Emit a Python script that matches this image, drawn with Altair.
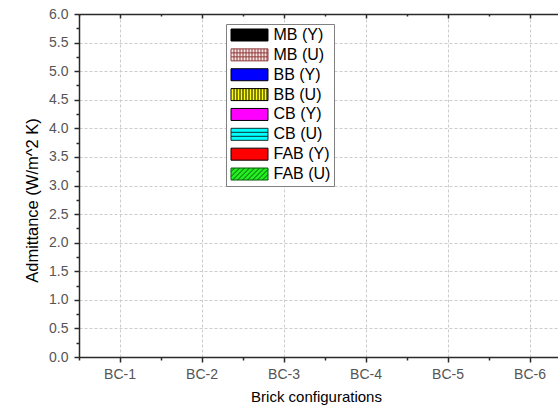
import altair as alt
import pandas as pd

# ---- data -------------------------------------------------------------
configs = ["BC-1", "BC-2", "BC-3", "BC-4", "BC-5", "BC-6"]
series = ["MB (Y)", "MB (U)", "BB (Y)", "BB (U)", "CB (Y)", "CB (U)", "FAB (Y)", "FAB (U)"]

# admittance (W/m^2 K) for each brick configuration; every bar sits on the baseline
mb_y = [0.0, 0.0, 0.0, 0.0, 0.0, 0.0]
mb_u = [0.0, 0.0, 0.0, 0.0, 0.0, 0.0]
bb_y = [0.0, 0.0, 0.0, 0.0, 0.0, 0.0]
bb_u = [0.0, 0.0, 0.0, 0.0, 0.0, 0.0]
cb_y = [0.0, 0.0, 0.0, 0.0, 0.0, 0.0]
cb_u = [0.0, 0.0, 0.0, 0.0, 0.0, 0.0]
fab_y = [0.0, 0.0, 0.0, 0.0, 0.0, 0.0]
fab_u = [0.0, 0.0, 0.0, 0.0, 0.0, 0.0]

y_ticks = [0.0, 0.5, 1.0, 1.5, 2.0, 2.5, 3.0, 3.5, 4.0, 4.5, 5.0, 5.5, 6.0]

series_values = [mb_y, mb_u, bb_y, bb_u, cb_y, cb_u, fab_y, fab_u]
df = pd.DataFrame(
    [
        {"config": c, "series": s, "value": v}
        for s, vals in zip(series, series_values)
        for c, v in zip(configs, vals)
    ]
)

# ---- styling ----------------------------------------------------------
FONT = "Liberation Sans"
AXIS_DARK = "#2a2a2a"
LABEL_GREY = "#555555"
GRID_GREY = "#cccccc"

fills = ["#000000", "#f7e3e3", "#0000ff", "#ffff00", "#ff00ff", "#00ffff", "#ff0000", "#22ee22"]
strokes = ["#000000", "#8e3b3b", "#000000", "#000000", "#000000", "#0e2e2e", "#000000", "#0b5a0b"]

# legend swatches as SVG paths (symbol units: 1 unit = 6 px)
HW, HH = 3.083, 1.0


def f(v):
    return f"{v:.3f}"


def swatch(kind):
    p = f"M{f(-HW)},{f(-HH)}H{f(HW)}V{f(HH)}H{f(-HW)}Z"
    if kind in ("grid", "vert"):
        x = -HW + 0.5
        while x < HW - 0.1:
            p += f"M{f(x)},{f(-HH)}V{f(HH)}"
            x += 0.5
    if kind in ("grid", "horiz"):
        for y in (-HH / 3, HH / 3):
            p += f"M{f(-HW)},{f(y)}H{f(HW)}"
    if kind == "diag":
        x0 = -HW - 2 * HH + 0.6
        while x0 < HW:
            t0 = max(0.0, -HW - x0)
            t1 = min(2 * HH, HW - x0)
            if t1 > t0:
                p += f"M{f(x0 + t0)},{f(HH - t0)}L{f(x0 + t1)},{f(HH - t1)}"
            x0 += 0.83
    return p


paths = [
    swatch("solid"), swatch("grid"), swatch("solid"), swatch("vert"),
    swatch("solid"), swatch("horiz"), swatch("solid"), swatch("diag"),
]

W, H = 479, 343
x_scale = alt.Scale(domain=configs, range=[0, 492], paddingInner=0, paddingOuter=0)
y_scale = alt.Scale(domain=[0, 6], nice=False)
fill_scale = alt.Scale(domain=series, range=fills)

x_axis_main = alt.Axis(
    orient="bottom", labelAngle=0, labelFont=FONT, labelFontSize=14, labelColor=LABEL_GREY,
    labelPadding=5, tickSize=5, tickWidth=1.5, tickColor=AXIS_DARK,
    domainColor=AXIS_DARK, domainWidth=1.5,
    grid=True, gridColor=GRID_GREY, gridDash=[3, 2], gridWidth=1,
    title="Brick configurations", titleFont=FONT, titleFontSize=15, titleFontWeight="normal",
    titleColor="#000000", titleX=237, titlePadding=8,
)
x_axis_minor = alt.Axis(
    orient="bottom", tickBand="extent", labels=False, domain=False, grid=False,
    tickSize=3, tickWidth=1.5, tickColor=AXIS_DARK, title=None,
)
y_axis_main = alt.Axis(
    orient="left", values=y_ticks, format=".1f", labelFont=FONT, labelFontSize=14,
    labelColor=LABEL_GREY, labelPadding=6, tickSize=5, tickWidth=1.5, tickColor=AXIS_DARK,
    domainColor=AXIS_DARK, domainWidth=1.5,
    grid=True, gridColor=GRID_GREY, gridDash=[3, 2], gridWidth=1,
    title="Admittance (W/m^2 K)", titleFont=FONT, titleFontSize=16.5, titleFontWeight="normal",
    titleColor="#000000", titlePadding=8, titleY=186,
)
y_axis_minor = alt.Axis(
    orient="left", values=[t + 0.25 for t in y_ticks[:-1]], labels=False, domain=False,
    grid=False, tickSize=3, tickWidth=1.5, tickColor=AXIS_DARK, title=None,
)
# frame along the top edge, ticks pointing into the plot
top_major = alt.Axis(
    orient="bottom", offset=-H, labels=False, grid=False, tickSize=4, tickWidth=1.5,
    tickColor=AXIS_DARK, domainColor=AXIS_DARK, domainWidth=1.5, title=None,
)
top_minor = alt.Axis(
    orient="bottom", offset=-H, tickBand="extent", labels=False, grid=False, domain=False,
    tickSize=2, tickWidth=1.5, tickColor=AXIS_DARK, title=None,
)

legend = alt.Legend(
    title=None, orient="none", legendX=147, legendY=10, direction="vertical",
    padding=3, strokeColor="#808080", fillColor="#ffffff",
    labelFont=FONT, labelFontSize=16, labelColor="#000000", labelLimit=0,
    labelExpr="datum.label + '\u00a0\u00a0\u00a0\u00a0\u00a0\u00a0'",
    symbolSize=144, symbolStrokeWidth=1, symbolOffset=12.5, labelOffset=16,
    rowPadding=3.86,
)

bars = alt.Chart(df).mark_bar().encode(
    x=alt.X("config:N", scale=x_scale, axis=x_axis_main, sort=configs),
    xOffset=alt.XOffset("series:N", sort=series),
    y=alt.Y("value:Q", scale=y_scale, axis=y_axis_main),
    fill=alt.Fill("series:N", scale=fill_scale, legend=legend),
)

# legend entries: fill + outline + hatched swatch shape per series
legend_layer = (
    alt.Chart(df)
    .transform_filter("false")
    .mark_point(filled=True, opacity=1, size=144, strokeWidth=1)
    .encode(
        x=alt.X("config:N", axis=x_axis_minor),
        y=alt.Y("value:Q", axis=y_axis_minor),
        fill=alt.Fill("series:N", scale=fill_scale, legend=legend),
        stroke=alt.Stroke("series:N", scale=alt.Scale(domain=series, range=strokes), legend=legend),
        shape=alt.Shape("series:N", scale=alt.Scale(domain=series, range=paths), legend=legend),
    )
)

frame_major = alt.Chart(df).mark_bar().encode(
    x=alt.X("config:N", axis=top_major),
    y=alt.Y("value:Q", axis=None),
)
frame_minor = alt.Chart(df).mark_bar().encode(
    x=alt.X("config:N", axis=top_minor),
    y=alt.Y("value:Q", axis=None),
)

chart = (
    alt.layer(bars, legend_layer, frame_major, frame_minor)
    .resolve_axis(x="independent", y="independent")
    .properties(
        width=W, height=H,
        autosize=alt.AutoSizeParams(type="none"),
        padding={"left": 79, "top": 14, "right": 0, "bottom": 411 - 14 - H},
        background="#ffffff",
    )
    .configure_view(stroke=None)
)

chart.save("out.html", embed_options={"renderer": "svg", "actions": False})
